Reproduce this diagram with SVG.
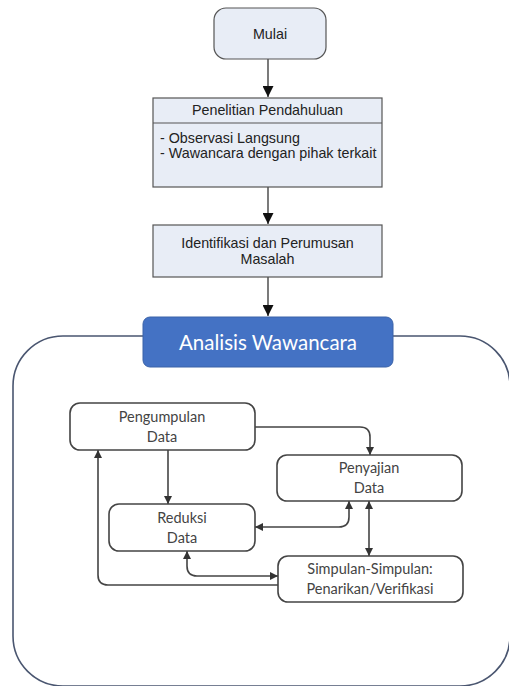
<svg xmlns="http://www.w3.org/2000/svg" width="509" height="686" viewBox="0 0 509 686">
<defs>
<style>
.top{fill:#e8edf6;stroke:#555;stroke-width:1.2}
.t1{font-family:"Liberation Sans",Arial,sans-serif;font-size:14.3px;fill:#222}
.inner{fill:#fff;stroke:#444;stroke-width:1.6}
.t2{font-family:Lato,"Open Sans",sans-serif;font-size:14.5px;fill:#444;text-anchor:middle}
.c{fill:none;stroke:#222;stroke-width:1.2}
.c2{fill:none;stroke:#444;stroke-width:1.6}
</style>
<marker id="ab" viewBox="0 0 10 10" refX="10" refY="5" markerWidth="12" markerHeight="11" markerUnits="userSpaceOnUse" orient="auto"><path d="M0,0 L10,5 L0,10 z" fill="#111"/></marker>
<marker id="as" viewBox="0 0 10 10" refX="10" refY="5" markerWidth="9" markerHeight="8" markerUnits="userSpaceOnUse" orient="auto-start-reverse"><path d="M0,0 L10,5 L0,10 z" fill="#333"/></marker>
</defs>
<rect width="509" height="686" fill="#fff"/>
<g id="container"><rect x="13" y="336" width="497" height="350" rx="50" fill="none" stroke="#4a5670" stroke-width="1.6"/></g>
<g id="connectors">
<line class="c" x1="268" y1="59" x2="268" y2="97" marker-end="url(#ab)"/>
<line class="c" x1="268" y1="187" x2="268" y2="224" marker-end="url(#ab)"/>
<line class="c" x1="268" y1="277" x2="268" y2="316" marker-end="url(#ab)"/>
<path class="c2" d="M255,427 H360 Q370,427 370,437 V455" marker-end="url(#as)"/>
<line class="c2" x1="168" y1="450" x2="168" y2="504" marker-end="url(#as)"/>
<path class="c2" d="M349,501 V517 Q349,527 339,527 H255" marker-start="url(#as)" marker-end="url(#as)"/>
<line class="c2" x1="369" y1="501" x2="369" y2="556" marker-start="url(#as)" marker-end="url(#as)"/>
<path class="c2" d="M187,551 V566 Q187,576 197,576 H278" marker-start="url(#as)" marker-end="url(#as)"/>
<path class="c2" d="M278,585 H108 Q98,585 98,575 V450" marker-end="url(#as)"/>
</g>
<g id="mulai"><rect class="top" x="214" y="8" width="112" height="51" rx="12"/><text class="t1" x="270" y="39" text-anchor="middle">Mulai</text></g>
<g id="penelitian"><rect class="top" x="153" y="98" width="229" height="89"/><line x1="153" y1="123" x2="382" y2="123" stroke="#555" stroke-width="1.2"/>
<text class="t1" x="267.5" y="115" text-anchor="middle">Penelitian Pendahuluan</text>
<text class="t1" x="160" y="143">- Observasi Langsung</text>
<text class="t1" x="160" y="158">- Wawancara dengan pihak terkait</text></g>
<g id="identifikasi"><rect class="top" x="153" y="225" width="229" height="52"/>
<text class="t1" x="267.5" y="248" text-anchor="middle">Identifikasi dan Perumusan</text>
<text class="t1" x="267.5" y="264" text-anchor="middle">Masalah</text></g>
<g id="analisis"><rect x="143" y="317" width="250" height="50" rx="7" fill="#4472c4" stroke="#3a62a8" stroke-width="1"/>
<text x="268" y="350" text-anchor="middle" font-family="Lato,'Open Sans',sans-serif" font-size="20.5" fill="#fff">Analisis Wawancara</text></g>
<g id="pengumpulan"><rect class="inner" x="70" y="403" width="185" height="47" rx="10"/><text class="t2" x="162" y="422">Pengumpulan</text><text class="t2" x="162" y="442">Data</text></g>
<g id="penyajian"><rect class="inner" x="277" y="455" width="185" height="46" rx="10"/><text class="t2" x="369" y="473">Penyajian</text><text class="t2" x="369" y="493">Data</text></g>
<g id="reduksi"><rect class="inner" x="109" y="504" width="146" height="47" rx="10"/><text class="t2" x="182" y="523">Reduksi</text><text class="t2" x="182" y="543">Data</text></g>
<g id="simpulan"><rect class="inner" x="278" y="556" width="185" height="46" rx="10"/><text class="t2" x="370" y="574">Simpulan-Simpulan:</text><text class="t2" x="370" y="594">Penarikan/Verifikasi</text></g>
</svg>
